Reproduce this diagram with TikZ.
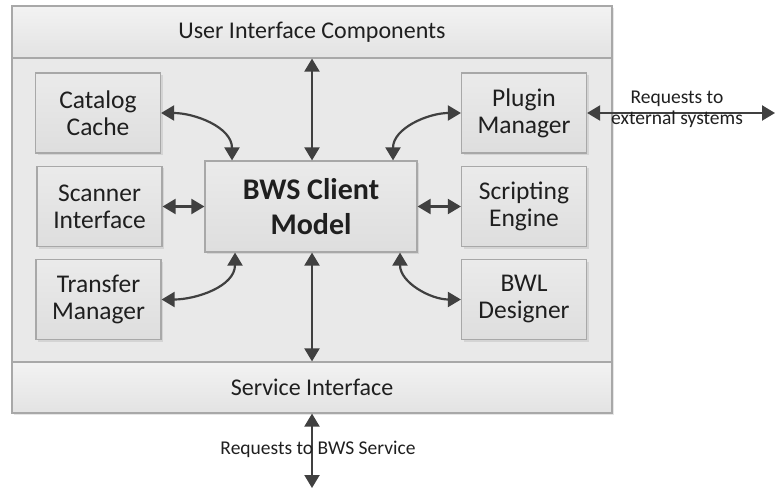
\documentclass[tikz,border=0pt]{standalone}
\usepackage{fontspec}
\setmainfont{Carlito}
\usetikzlibrary{arrows.meta,shadows}
\definecolor{bord}{HTML}{A8A8A8}
\definecolor{arr}{HTML}{404040}
\definecolor{outerfill}{HTML}{E9E9E9}
\tikzset{
  comp/.style={draw=bord, line width=1.2pt, top color=white!92!black, bottom color=white!87!black,
    minimum width=125pt, minimum height=80pt, align=center, inner sep=0pt,
    font=\fontsize{25.5}{27}\selectfont, text=black!88,
    drop shadow={opacity=0.2, shadow xshift=2pt, shadow yshift=-2pt}},
  band/.style={draw=bord, line width=1.2pt, top color=white!95!black, bottom color=white!89!black,
    minimum width=600pt, minimum height=52pt, inner sep=0pt, font=\fontsize{24}{28}\selectfont, text=black!88},
  biarr/.style={draw=arr, line width=2.2pt, {Triangle[length=13pt,width=15pt]}-{Triangle[length=13pt,width=15pt]}},
  lbl/.style={font=\fontsize{19.5}{21}\selectfont, text=black!88, align=center, inner sep=0pt}
}
\begin{document}
\begin{tikzpicture}[x=1pt,y=-1pt]
\useasboundingbox (0,0) rectangle (776,489);
\draw[draw=bord, line width=1.2pt, fill=outerfill, drop shadow={opacity=0.2, shadow xshift=2pt, shadow yshift=-2pt}] (12,6) rectangle (612,413);
\node[band] (ui) at (312,32) {User Interface Components};
\node[band, minimum height=51pt] (si) at (312,387.5) {Service Interface};
\node[comp] (cat) at (98,113) {Catalog\\Cache};
\node[comp] (scan) at (99.5,206.5) {Scanner\\Interface};
\node[comp] (trans) at (98.5,299.5) {Transfer\\Manager};
\node[comp] (plug) at (524,113) {Plugin\\Manager};
\node[comp] (script) at (524,206.5) {Scripting\\Engine};
\node[comp] (bwl) at (524,299.5) {BWL\\Designer};
\node[comp, minimum width=212pt, minimum height=91pt, font=\bfseries\fontsize{30}{35}\selectfont] (model) at (311,206.5) {BWS Client\\Model};
\coordinate (ext) at (775,113);
\coordinate (bot) at (312,488);
\draw[biarr] (model.north -| ui.center) -- (ui.south);
\draw[biarr] (model.south -| si.center) -- (si.north);
\draw[biarr] (si.south) -- (bot);
\draw[biarr] (scan.east) -- (scan.east -| model.west);
\draw[biarr] (script.west) -- (script.west -| model.east);
\draw[biarr] (cat.east) to[out=0,in=90] ([xshift=-79pt]model.north);
\draw[biarr] (trans.east) to[out=0,in=-90] ([xshift=-76pt]model.south);
\draw[biarr] (plug.west) to[out=180,in=90] ([xshift=82pt]model.north);
\draw[biarr] (bwl.west) to[out=180,in=-90] ([xshift=89pt]model.south);
\draw[biarr] (plug.east) -- (ext);
\node[lbl] (extl) at (677,109) {Requests to\\external systems};
\node[lbl, anchor=base] (botl) at (318,454) {Requests to BWS Service};
\end{tikzpicture}
\end{document}
